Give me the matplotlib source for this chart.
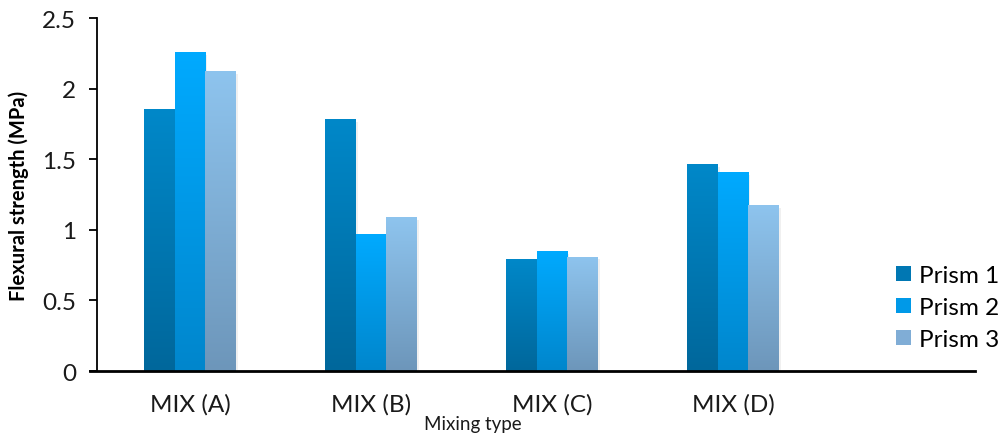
import numpy as np
import matplotlib
matplotlib.use("Agg")
import matplotlib.pyplot as plt
from matplotlib.colors import LinearSegmentedColormap
from matplotlib.patches import Patch

# data
categories = ["MIX (A)", "MIX (B)", "MIX (C)", "MIX (D)"]
series_names = ["Prism 1", "Prism 2", "Prism 3"]
prism1 = [1.855, 1.785, 0.795, 1.465]
prism2 = [2.26, 0.97, 0.85, 1.41]
prism3 = [2.125, 1.09, 0.81, 1.175]

# (top colour, bottom colour) per series
grad_colors = [("#0088c9", "#00679b"), ("#00aaff", "#0086cc"), ("#8ec4ee", "#6d96ba")]

plt.rcParams["font.family"] = ["Lato", "DejaVu Sans"]

fig = plt.figure(figsize=(9.98, 4.39), dpi=100)
ax = fig.add_axes([0.0972, 0.1526, 0.8798, 0.8041])

x = np.arange(len(categories))
width = 0.168
grad = np.linspace(0, 1, 256).reshape(-1, 1)

for i, vals in enumerate([prism1, prism2, prism3]):
    bars = ax.bar(x + (i - 1) * width, vals, width, color="none", linewidth=0, zorder=2)
    cmap = LinearSegmentedColormap.from_list(f"g{i}", [grad_colors[i][1], grad_colors[i][0]])
    for b in bars:
        x0, y0 = b.get_x(), b.get_y()
        w, h = b.get_width(), b.get_height()
        # faint shadow
        ax.bar(x0 + w / 2 + 0.012, h, w, bottom=-0.02, color="#000000", alpha=0.06,
               linewidth=0, zorder=1)
        im = ax.imshow(grad, cmap=cmap, origin="lower", aspect="auto",
                       extent=[x0, x0 + w, y0, y0 + h], zorder=3)
        im.set_clip_path(b)

ax.set_xlim(-0.514, 4.337)
ax.set_ylim(0, 2.5)
ax.set_yticks([0, 0.5, 1, 1.5, 2, 2.5])
ax.set_yticklabels(["0", "0.5", "1", "1.5", "2", "2.5"])
ax.set_xticks(x)
ax.set_xticklabels(categories)
ax.tick_params(axis="x", length=0, labelsize=17.5, pad=16, colors="#1a1a1a")
ax.tick_params(axis="y", length=6, width=1.3, direction="out", labelsize=17.5,
               pad=9, colors="black", labelcolor="#1a1a1a")

for side in ["top", "right"]:
    ax.spines[side].set_visible(False)
ax.spines["left"].set_linewidth(1.3)
ax.spines["bottom"].set_linewidth(2)
ax.spines["bottom"].set_bounds(-0.55, 4.337)
ax.spines["bottom"].set_zorder(5)

ax.set_ylabel("Flexural strength (MPa)", fontsize=14.5, fontweight="bold")
ax.yaxis.set_label_coords(-0.078, 0.5)
ax.set_xlabel("Mixing type", fontsize=13.5, color="#1a1a1a")
ax.xaxis.set_label_coords(0.4285, -0.125)

handles = [Patch(facecolor=c, edgecolor="none") for c in ["#0077b3", "#0099e8", "#80add6"]]
leg = ax.legend(handles, series_names, loc="center left", bbox_to_anchor=(0.899, 0.18),
                frameon=False, fontsize=17.5, handlelength=0.6, handleheight=0.6,
                handletextpad=0.35, labelspacing=0.45, borderaxespad=0)

fig.savefig("out.png", dpi=100)
